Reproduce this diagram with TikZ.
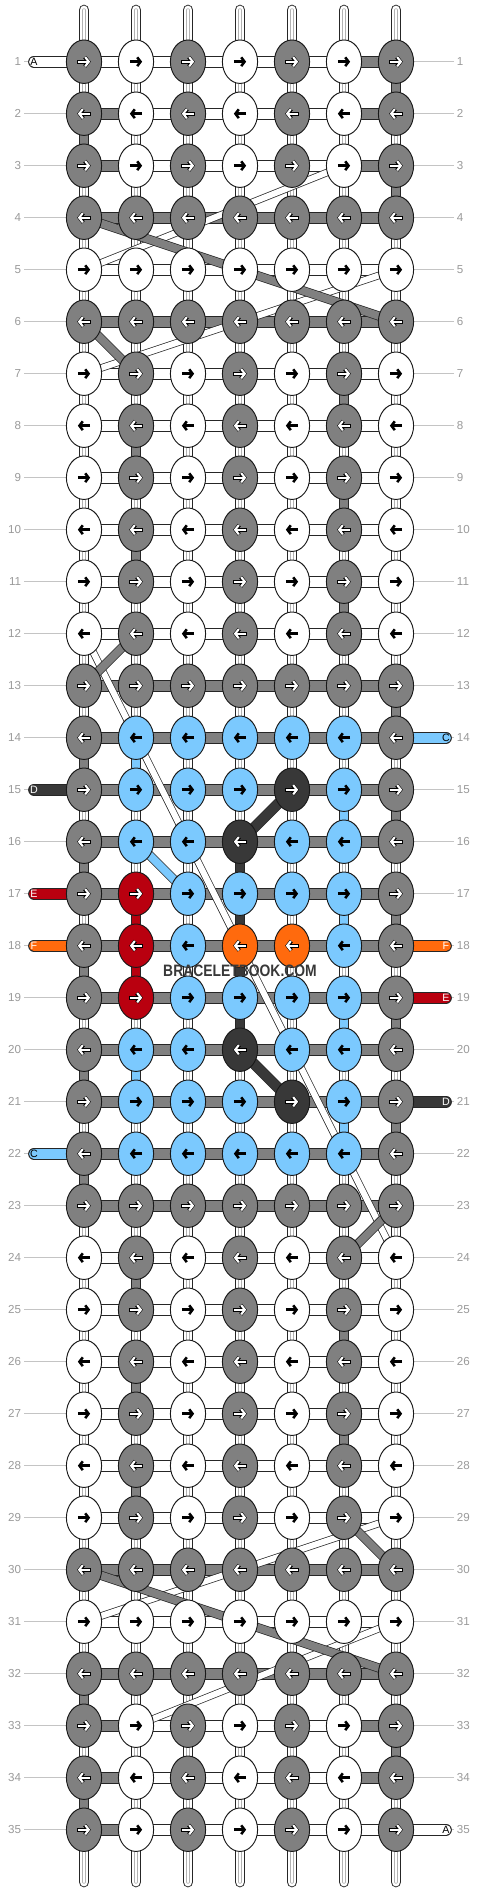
\documentclass[tikz,border=0pt]{standalone}
\usepackage{fontspec}
\setmainfont{Liberation Sans}
\usetikzlibrary{arrows.meta,shapes.geometric}

\definecolor{kg}{HTML}{808080}
\definecolor{kw}{HTML}{FFFFFF}
\definecolor{kb}{HTML}{7BC9FE}
\definecolor{kk}{HTML}{383838}
\definecolor{kr}{HTML}{B9000F}
\definecolor{ko}{HTML}{FF6A0D}
\definecolor{numgray}{HTML}{9A9A9A}
\definecolor{rulegray}{HTML}{C4C4C4}

\pgfdeclarelayer{rules}
\pgfdeclarelayer{links}
\pgfdeclarelayer{jumps}
\pgfsetlayers{rules,links,jumps,main}

\tikzset{
  knot/.style={ellipse, draw=black!90, line width=0.7pt, minimum width=26.4pt,
    minimum height=32.6pt, inner sep=0pt},
  hlink/.style={line width=0.7pt, draw=black!85, double=#1, double distance=7.4pt},
  vlink/.style={line width=0.7pt, draw=black!85, double=#1, double distance=6.6pt},
  vpair/.style={vlink=white, postaction={draw=black!30, line width=0.35pt,
    double=white, double distance=1.8pt}},
  jump/.style={line width=0.55pt, draw=black!85, double=#1, double distance=4.5pt},
  arr kw/.style={draw=black, line width=1.9pt, -{Straight Barb[length=2.5pt, width=6.6pt]}},
  arr kb/.style={arr kw},
  arr kg/.style={draw=white, line width=1.6pt, -{Straight Barb[length=2.7pt, width=7pt]},
    preaction={draw=black, line width=2.9pt, shorten >=-0.5pt, shorten <=-0.5pt}},
  arr kk/.style={arr kg},
  arr kr/.style={arr kg},
  arr ko/.style={arr kg},
  rownum/.style={text=numgray, inner sep=2pt, font=\fontsize{8.7pt}{9pt}\selectfont},
  rowrule/.style={draw=rulegray, line width=0.6pt},
  endtag/.style={inner sep=0pt, font=\fontsize{8pt}{9pt}\selectfont},
  brandtext/.style={text=black!78, font=\fontsize{12.4pt}{13pt}\selectfont\bfseries}
}

\begin{document}
\begin{tikzpicture}[x=0.75pt, y=-0.75pt]
  \useasboundingbox (0,0) rectangle (480,1892);
  \begin{pgfonlayer}{rules}
    \fill[white] (0,0) rectangle (480,1892);
  \end{pgfonlayer}

  % knots row by row: colours of the knots / colours of the links between them
  \foreach \r/\knots/\links in {
    1/{kg,kw,kg,kw,kg,kw,kg}/{kw,kw,kw,kw,kw,kg},
    2/{kg,kw,kg,kw,kg,kw,kg}/{kg,kw,kw,kw,kw,kg},
    3/{kg,kw,kg,kw,kg,kw,kg}/{kg,kw,kw,kw,kw,kg},
    4/{kg,kg,kg,kg,kg,kg,kg}/{kg,kg,kg,kg,kg,kg},
    5/{kw,kw,kw,kw,kw,kw,kw}/{kw,kw,kw,kw,kw,kw},
    6/{kg,kg,kg,kg,kg,kg,kg}/{kg,kg,kg,kg,kg,kg},
    7/{kw,kg,kw,kg,kw,kg,kw}/{kw,kw,kw,kw,kw,kw},
    8/{kw,kg,kw,kg,kw,kg,kw}/{kw,kw,kw,kw,kw,kw},
    9/{kw,kg,kw,kg,kw,kg,kw}/{kw,kw,kw,kw,kw,kw},
    10/{kw,kg,kw,kg,kw,kg,kw}/{kw,kw,kw,kw,kw,kw},
    11/{kw,kg,kw,kg,kw,kg,kw}/{kw,kw,kw,kw,kw,kw},
    12/{kw,kg,kw,kg,kw,kg,kw}/{kw,kw,kw,kw,kw,kw},
    13/{kg,kg,kg,kg,kg,kg,kg}/{kg,kg,kg,kg,kg,kg},
    14/{kg,kb,kb,kb,kb,kb,kg}/{kg,kg,kg,kg,kg,kg},
    15/{kg,kb,kb,kb,kk,kb,kg}/{kg,kg,kg,kg,kg,kg},
    16/{kg,kb,kb,kk,kb,kb,kg}/{kg,kg,kg,kg,kg,kg},
    17/{kg,kr,kb,kb,kb,kb,kg}/{kg,kg,kg,kg,kg,kg},
    18/{kg,kr,kb,ko,ko,kb,kg}/{kg,kg,kg,kg,kg,kg},
    19/{kg,kr,kb,kb,kb,kb,kg}/{kg,kg,kg,kg,kg,kg},
    20/{kg,kb,kb,kk,kb,kb,kg}/{kg,kg,kg,kg,kg,kg},
    21/{kg,kb,kb,kb,kk,kb,kg}/{kg,kg,kg,kg,kg,kg},
    22/{kg,kb,kb,kb,kb,kb,kg}/{kg,kg,kg,kg,kg,kg},
    23/{kg,kg,kg,kg,kg,kg,kg}/{kg,kg,kg,kg,kg,kg},
    24/{kw,kg,kw,kg,kw,kg,kw}/{kw,kw,kw,kw,kw,kw},
    25/{kw,kg,kw,kg,kw,kg,kw}/{kw,kw,kw,kw,kw,kw},
    26/{kw,kg,kw,kg,kw,kg,kw}/{kw,kw,kw,kw,kw,kw},
    27/{kw,kg,kw,kg,kw,kg,kw}/{kw,kw,kw,kw,kw,kw},
    28/{kw,kg,kw,kg,kw,kg,kw}/{kw,kw,kw,kw,kw,kw},
    29/{kw,kg,kw,kg,kw,kg,kw}/{kw,kw,kw,kw,kw,kw},
    30/{kg,kg,kg,kg,kg,kg,kg}/{kg,kg,kg,kg,kg,kg},
    31/{kw,kw,kw,kw,kw,kw,kw}/{kw,kw,kw,kw,kw,kw},
    32/{kg,kg,kg,kg,kg,kg,kg}/{kg,kg,kg,kg,kg,kg},
    33/{kg,kw,kg,kw,kg,kw,kg}/{kg,kw,kw,kw,kw,kg},
    34/{kg,kw,kg,kw,kg,kw,kg}/{kg,kw,kw,kw,kw,kg},
    35/{kg,kw,kg,kw,kg,kw,kg}/{kg,kw,kw,kw,kw,kw}}{
    \foreach \k [count=\c] in \knots
      \node[knot, fill=\k] (n-\r-\c) at ({84+52*(\c-1)}, {61.7+52*(\r-1)}) {};
    \begin{pgfonlayer}{links}
      \foreach \l [count=\c] in \links {
        \pgfmathtruncatemacro\d{\c+1}
        \draw[hlink=\l] (n-\r-\c.center) -- (n-\r-\d.center);
      }
    \end{pgfonlayer}
    % arrows: odd rows to the right, even rows to the left
    \pgfmathsetmacro\xa{ifthenelse(isodd(\r),-4.6,4.6)}
    \pgfmathsetmacro\xb{0-\xa}
    \foreach \k [count=\c] in \knots
      \draw[arr \k] ([xshift=\xa pt]n-\r-\c.center) -- ([xshift=\xb pt]n-\r-\c.center);
    \node[rownum, anchor=east] (l-\r) at (24, {61.7+52*(\r-1)}) {\r};
    \node[rownum, anchor=west] (r-\r) at (454, {61.7+52*(\r-1)}) {\r};
    \begin{pgfonlayer}{rules}
      \draw[rowrule] (l-\r) -- (n-\r-1.center);
      \draw[rowrule] (r-\r) -- (n-\r-7.center);
    \end{pgfonlayer}
  }

  \begin{pgfonlayer}{links}
    % strands between the rows
    \foreach \r in {1,...,34}{
      \pgfmathtruncatemacro\s{\r+1}
      \foreach \c in {1,...,7}
        \draw[vpair] (n-\r-\c.center) -- (n-\s-\c.center);
    }
    \foreach \r/\c/\col in {1/7/kg, 2/1/kg, 3/7/kg, 7/6/kg, 8/2/kg, 9/6/kg, 10/2/kg,
        11/6/kg, 13/7/kg, 14/1/kg, 14/2/kb, 15/6/kb, 15/7/kg, 16/1/kg, 16/4/kk,
        17/2/kr, 17/4/kk, 17/6/kb, 17/7/kg, 18/1/kg, 18/2/kr, 18/4/kk, 19/4/kk,
        19/6/kb, 19/7/kg, 20/1/kg, 20/2/kb, 21/6/kb, 21/7/kg, 22/1/kg, 24/2/kg,
        25/6/kg, 26/2/kg, 27/6/kg, 28/2/kg, 32/1/kg, 33/7/kg, 34/1/kg}{
      \pgfmathtruncatemacro\s{\r+1}
      \draw[vlink=\col] (n-\r-\c.center) -- (n-\s-\c.center);
    }
    % loose ends above and below
    \foreach \c in {1,...,7}{
      \coordinate (top-\c) at ({84+52*(\c-1)}, 10);
      \coordinate (bot-\c) at ({84+52*(\c-1)}, 1882);
      \draw[vpair, line cap=round] (top-\c) -- (n-1-\c.center);
      \draw[vpair, line cap=round] (bot-\c) -- (n-35-\c.center);
    }
  \end{pgfonlayer}

  % threads that change place
  \begin{pgfonlayer}{jumps}
    \foreach \a/\b in {n-3-6/n-5-1, n-5-7/n-7-1, n-12-1/n-24-7, n-29-7/n-31-1, n-31-7/n-33-2}
      \draw[jump=white] (\a.center) -- (\b.center);
    \foreach \a/\b in {n-4-1/n-6-7, n-6-1/n-7-2, n-12-2/n-13-1, n-23-7/n-24-6,
        n-29-6/n-30-7, n-30-1/n-32-7}
      \draw[jump=kg, double distance=5.8pt] (\a.center) -- (\b.center);
    \draw[jump=kb, double distance=5.8pt] (n-16-2.center) -- (n-17-3.center);
    \draw[jump=kk, double distance=7pt] (n-15-5.center) -- (n-16-4.center);
    \draw[jump=kk, double distance=7pt] (n-20-4.center) -- (n-21-5.center);
  \end{pgfonlayer}

  % thread ends with their letters
  \foreach \r/\col/\txt/\tc in {1/kw/A/black, 15/kk/D/white, 17/kr/E/white,
      18/ko/F/white, 22/kb/C/black}{
    \node[endtag, text=\tc] (a-\r) at (34, {61.7+52*(\r-1)}) {\txt};
    \begin{pgfonlayer}{links}
      \draw[hlink=\col, line cap=round] (a-\r.center) -- (n-\r-1.center);
    \end{pgfonlayer}
  }
  \foreach \r/\col/\txt/\tc in {14/kb/C/black, 18/ko/F/white, 19/kr/E/white,
      21/kk/D/white, 35/kw/A/black}{
    \node[endtag, text=\tc] (z-\r) at (446, {61.7+52*(\r-1)}) {\txt};
    \begin{pgfonlayer}{links}
      \draw[hlink=\col, line cap=round] (z-\r.center) -- (n-\r-7.center);
    \end{pgfonlayer}
  }

  \node[brandtext] (brand) at (240, 971) {\scalebox{0.84}[1]{BRACELETBOOK.COM}};
\end{tikzpicture}
\end{document}
